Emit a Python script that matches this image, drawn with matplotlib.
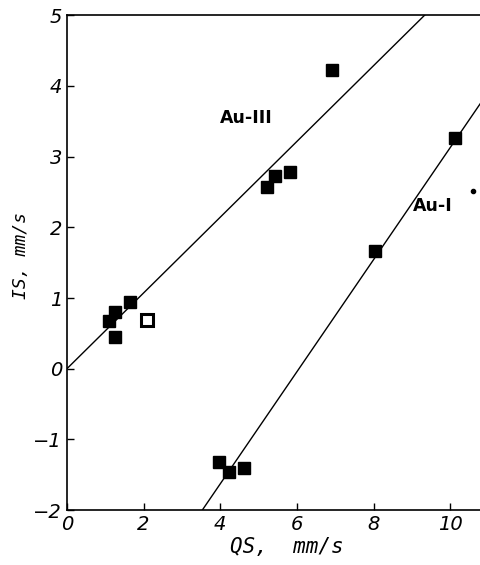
import numpy as np
import matplotlib.pyplot as plt

# Au-III points (filled squares)
qs_au3 = [1.10, 1.26, 1.26, 1.65, 5.21, 5.42, 5.81, 6.91]
is_au3 = [0.67, 0.80, 0.45, 0.94, 2.57, 2.72, 2.79, 4.22]
# open square
qs_open = [2.09]
is_open = [0.69]
# Au-I points
qs_au1 = [3.98, 4.24, 4.63, 8.04, 10.13]
is_au1 = [-1.32, -1.46, -1.40, 1.67, 3.26]
# small speck
qs_dot = [10.6]
is_dot = [2.52]

# fit lines (intercept, slope)
line_au3 = (0.0, 0.536)
line_au1 = (-2.0 - 0.793 * 3.53, 0.793)

xt = [0, 2, 4, 6, 8, 10]
yt = [-2, -1, 0, 1, 2, 3, 4, 5]

fig = plt.figure(figsize=(4.81, 5.65), dpi=100)
ax = fig.add_axes([0.139, 0.097, 0.861, 0.876])

xx = np.linspace(0, 10.8, 200)
for b, k in (line_au3, line_au1):
    ax.plot(xx, b + k * xx, color='black', lw=1.0)

ax.plot(qs_au3, is_au3, 's', color='black', ms=9)
ax.plot(qs_au1, is_au1, 's', color='black', ms=9)
ax.plot(qs_open, is_open, 's', mfc='white', mec='black', mew=2.2, ms=8)
ax.plot(qs_dot, is_dot, 'o', color='black', ms=3)

ax.text(4.69, 3.54, 'Au-III', fontsize=12.5, fontweight='bold', ha='center', va='center')
ax.text(9.53, 2.30, 'Au-I', fontsize=12.5, fontweight='bold', ha='center', va='center')

ax.set_xlim(0, 10.8)
ax.set_ylim(-2, 5)
ax.set_xticks(xt)
ax.set_yticks(yt)
ax.set_xticklabels([str(v) for v in xt], fontstyle='italic', fontsize=14)
ax.set_yticklabels([str(v).replace('-', '\u2212') for v in yt], fontstyle='italic', fontsize=14)
ax.tick_params(direction='in', length=5, width=1)
ax.spines['right'].set_visible(False)
for s in ('left', 'bottom', 'top'):
    ax.spines[s].set_linewidth(1.2)

ax.set_xlabel('QS,  mm/s', family='DejaVu Sans Mono', fontstyle='italic', fontsize=15)
ax.set_ylabel('IS, mm/s', family='DejaVu Sans Mono', fontstyle='italic', fontsize=13)
ax.xaxis.set_label_coords(0.53, -0.055)
ax.yaxis.set_label_coords(-0.09, 0.515)

fig.savefig('out.png', dpi=100)
